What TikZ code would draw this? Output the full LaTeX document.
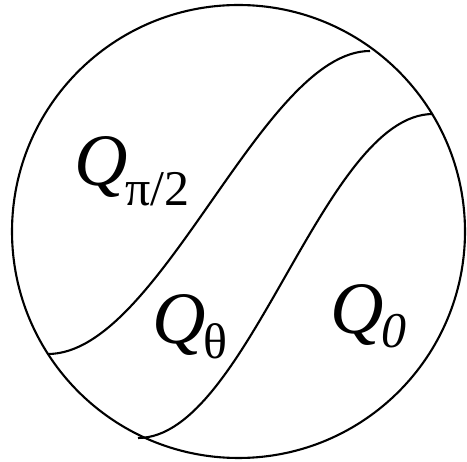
\documentclass[tikz,border=0pt]{standalone}
\usepackage{fontspec}
\setmainfont{Liberation Serif}
\usepackage{tikz}
\usetikzlibrary{positioning,calc}

\newcommand{\Qlabel}[2]{\itshape Q\kern-2pt\raisebox{-#1}{\fontsize{50}{50}\selectfont #2}}

\begin{document}
\begin{tikzpicture}[
    x=1pt, y=-1pt,
    rim/.style={line width=2.1pt, black},
    region/.style={line width=2.1pt, black},
    lbl/.style={inner sep=0pt, anchor=base west, font=\fontsize{74}{74}\selectfont}
]
\useasboundingbox (0,0) rectangle (467,462);

% Disc
\coordinate (centre) at (238.5,231.5);
\draw[rim] (centre) circle (226.5);

% End points of the two curves
\coordinate (a0) at (48,354);
\coordinate (a1) at (370,51);
\coordinate (b0) at (138,438);
\coordinate (b1) at (433,114);

% Curves
\draw[region] (a0) .. controls ($(a0)+(112,0)$) and ($(a1)-(108,0)$) .. (a1);
\draw[region] (b0) .. controls ($(b0)+(110,0)$) and ($(b1)-(110,0)$) .. (b1);

% Labels
\node[lbl] (qhalfpi) at (74,186) {\Qlabel{20pt}{\upshape π/2}};
\node[lbl] (qtheta) at (152,344) {\Qlabel{15pt}{\upshape θ}};
\node[lbl] (qzero) at (330,334) {\Qlabel{14pt}{\itshape 0}};

\end{tikzpicture}
\end{document}
